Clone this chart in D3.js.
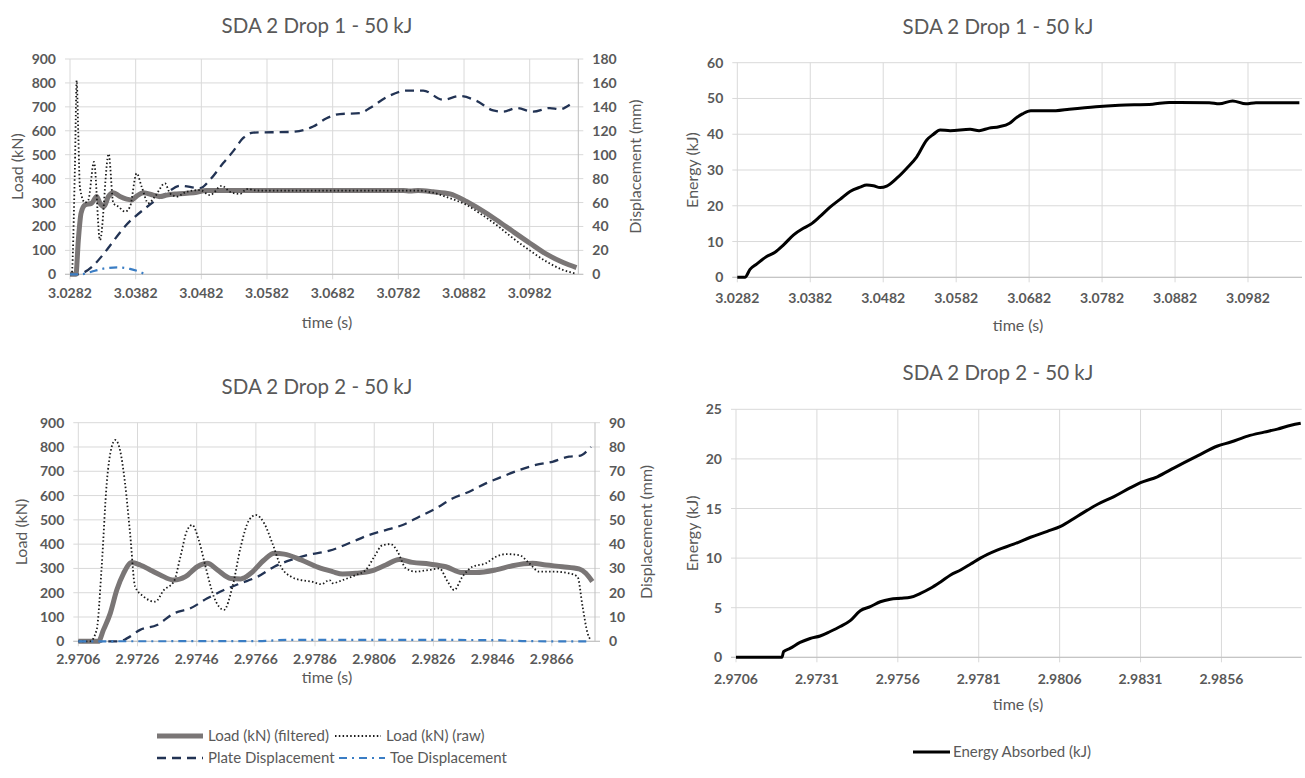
<!DOCTYPE html>
<meta charset="utf-8">
<script src="https://cdn.jsdelivr.net/npm/d3@7"></script>
<style>
  body { margin: 0; background: #fff; }
  svg text { font-family: Lato, "Open Sans", sans-serif; fill: #595959; }
</style>
<body>
<div id="chart"></div>
<script>

// ---- data: [time (s), value] ----

// Drop 1
var d1LoadFiltered = [[3.0282,0],[3.0291,0],[3.02947,143],[3.02988,255],[3.03048,290],[3.0315,297],[3.03226,325],
  [3.03277,297],[3.03338,283],[3.03404,325],[3.0348,341],[3.03581,325],[3.03683,314],[3.03759,311],[3.03835,327],
  [3.03937,341],[3.0409,331],[3.0419,325],[3.04292,331],[3.04444,336],[3.04698,341],[3.04901,350],[3.06,350],
  [3.0740,350],[3.0790,350],[3.07995,348],[3.0812,350],[3.08349,345],[3.08604,336],[3.08858,304],[3.0906,272],
  [3.09315,227],[3.0957,178],[3.09824,130],[3.10076,84],[3.1033,49],[3.10532,28]];
var d1LoadRaw = [[3.0282,0],[3.02845,0],[3.02895,450],[3.02922,810],[3.02945,600],[3.02972,360],[3.03048,300],
  [3.03099,310],[3.03185,470],[3.03277,143],[3.03409,503],[3.0348,297],[3.03556,283],[3.03658,262],[3.03734,283],
  [3.03835,422],[3.03911,366],[3.04013,297],[3.04114,325],[3.04267,380],[3.04343,338],[3.04444,325],[3.04597,345],
  [3.04799,352],[3.04952,331],[3.0513,370],[3.05256,345],[3.05409,336],[3.0551,356],[3.057,350],[3.075,350],
  [3.0812,350],[3.08349,341],[3.08604,318],[3.08858,290],[3.0906,255],[3.09315,206],[3.0957,150],[3.09824,99],
  [3.10076,53],[3.1033,18],[3.10502,4]];
var d1Plate = [[3.0282,0],[3.02922,0],[3.03784,47],[3.04292,68],[3.04494,74],[3.04799,72],[3.04951,79],
  [3.05153,93],[3.05306,103],[3.05458,114],[3.0561,118.5],[3.06169,119],[3.06523,123.5],[3.06727,130.5],
  [3.0693,134],[3.07234,134.7],[3.07386,139],[3.0764,148],[3.07945,153.6],[3.08198,153.6],[3.08502,145.9],
  [3.08756,149],[3.0901,145],[3.09263,137],[3.09415,136],[3.09619,139],[3.09872,136],[3.10126,139],
  [3.10278,138],[3.1043,141.7]];
var d1Toe = [[3.0282,0],[3.02972,0],[3.032,3],[3.03353,5],[3.03551,5.8],[3.03733,4.5],[3.03885,2],[3.03962,0]];
var d1Energy = [[3.0282,0],[3.02925,0],[3.02994,2.2],[3.03085,3.7],[3.03222,5.8],[3.03337,7],[3.03451,9],
  [3.03588,11.8],[3.03725,13.7],[3.03826,14.8],[3.03954,17],[3.04091,19.6],[3.04228,21.8],[3.04365,24],
  [3.04503,25.2],[3.04594,25.8],[3.04686,25.6],[3.04777,25.1],[3.04868,25.5],[3.05006,27.7],[3.05143,30.5],
  [3.0528,33.7],[3.05417,38.4],[3.05509,40],[3.056,41.2],[3.05737,41],[3.06011,41.4],[3.06134,41],
  [3.06271,41.7],[3.06408,42.1],[3.06546,43],[3.06637,44.5],[3.06729,45.7],[3.06843,46.6],[3.07186,46.6],
  [3.07369,47],[3.07735,47.7],[3.08055,48.1],[3.08512,48.4],[3.0874,48.9],[3.09289,48.8],[3.09426,48.5],
  [3.09609,49.3],[3.09792,48.5],[3.09929,48.8],[3.10524,48.8]];

// Drop 2
var d2LoadFiltered = [[2.9706,0],[2.97128,0],[2.97145,47],[2.97168,115],[2.9719,211],[2.97213,280],
  [2.97241,324],[2.97269,314],[2.97303,294],[2.97337,273],[2.97383,252],[2.97422,266],[2.97462,307],
  [2.97496,321],[2.9753,294],[2.97575,259],[2.97609,257],[2.97643,280],[2.97688,335],[2.97722,362],
  [2.97756,359],[2.97813,335],[2.97869,305],[2.97919,287],[2.97953,277],[2.97998,280],[2.98054,291],
  [2.98099,314],[2.98144,337],[2.98189,325],[2.98246,318],[2.98302,307],[2.98358,283],[2.98403,283],
  [2.98471,294],[2.98527,311],[2.98595,321],[2.9864,314],[2.98696,307],[2.98752,298],[2.98775,280],[2.98797,246]];
var d2LoadRaw = [[2.9706,0],[2.971,0],[2.97122,47],[2.97139,307],[2.97156,650],[2.97173,801],[2.97185,829],
  [2.97201,787],[2.97218,650],[2.97235,444],[2.97252,225],[2.97281,184],[2.9732,163],[2.97349,211],
  [2.97383,246],[2.97405,348],[2.97428,458],[2.97445,479],[2.97467,417],[2.9749,307],[2.97518,184],
  [2.97552,129],[2.97581,225],[2.97609,390],[2.97637,499],[2.9766,520],[2.97688,486],[2.97716,403],
  [2.97745,307],[2.97779,266],[2.97813,252],[2.97847,246],[2.97881,235],[2.97909,252],[2.97919,239],
  [2.97953,252],[2.97998,273],[2.98032,294],[2.9806,348],[2.98088,396],[2.98116,400],[2.98139,369],
  [2.98167,300],[2.98201,287],[2.98246,294],[2.9828,300],[2.98308,246],[2.9833,211],[2.98358,266],
  [2.98392,307],[2.98437,321],[2.98471,348],[2.98505,359],[2.9855,355],[2.98584,321],[2.98617,287],
  [2.98662,287],[2.98718,280],[2.98747,266],[2.98764,143],[2.98781,33],[2.98792,5]];
var d2Plate = [[2.9706,0],[2.97201,0],[2.97224,1.2],[2.97269,4.7],[2.97326,6.7],[2.97383,11.5],[2.97439,13.6],
  [2.97496,17.7],[2.97552,21.1],[2.97609,23.9],[2.97666,26.6],[2.97722,30.7],[2.97779,33.5],[2.97835,35.5],
  [2.97909,37.3],[2.97987,41],[2.98043,43.8],[2.98099,45.8],[2.98156,47.9],[2.98212,51.3],[2.98268,54.7],
  [2.98324,58.8],[2.98381,61.6],[2.98437,65],[2.98493,67.8],[2.9855,70.5],[2.98606,72.6],[2.98662,73.9],
  [2.98718,76],[2.98752,76.3],[2.98792,80.1]];
var d2Toe = [[2.9706,0],[2.9766,0.1],[2.9778,0.6],[2.9806,0.6],[2.9846,0.5],[2.9856,0.1],[2.9866,0],[2.9879,0]];
var d2Energy = [[2.9706,0],[2.97202,0],[2.97207,0.57],[2.97227,0.9],[2.97258,1.5],[2.97289,1.9],[2.9732,2.15],
  [2.97351,2.6],[2.97382,3.1],[2.97413,3.7],[2.97444,4.7],[2.97475,5.1],[2.97506,5.6],[2.97537,5.85],
  [2.97568,5.95],[2.97599,6.05],[2.9763,6.45],[2.97661,6.96],[2.97692,7.6],[2.97723,8.3],[2.97754,8.8],
  [2.97785,9.4],[2.97815,10],[2.97867,10.8],[2.97918,11.4],[2.9797,12.1],[2.98022,12.7],[2.98063,13.2],
  [2.98114,14.2],[2.98176,15.4],[2.98228,16.2],[2.98279,17.1],[2.9831,17.6],[2.98362,18.2],[2.98414,19.1],
  [2.98486,20.3],[2.98548,21.3],[2.98589,21.7],[2.98641,22.3],[2.98692,22.7],[2.98733,23.0],[2.98775,23.4],
  [2.98805,23.6]];

// ticks
var d1TimeTicks = [3.0282, 3.0382, 3.0482, 3.0582, 3.0682, 3.0782, 3.0882, 3.0982];
var d2TimeTicks = [2.9706, 2.9726, 2.9746, 2.9766, 2.9786, 2.9806, 2.9826, 2.9846, 2.9866];
var d2EnergyTimeTicks = [2.9706, 2.9731, 2.9756, 2.9781, 2.9806, 2.9831, 2.9856];
var loadTicks = [0, 100, 200, 300, 400, 500, 600, 700, 800, 900];
var d1DispTicks = [0, 20, 40, 60, 80, 100, 120, 140, 160, 180];
var d2DispTicks = [0, 10, 20, 30, 40, 50, 60, 70, 80, 90];
var d1EnergyTicks = [0, 10, 20, 30, 40, 50, 60];
var d2EnergyTicks = [0, 5, 10, 15, 20, 25];

// line styles
var styles = {
  filtered: {stroke: "#7a7676", width: 5, dash: null},
  raw: {stroke: "#1a1a1a", width: 1.8, dash: "1.5,2.3"},
  plate: {stroke: "#223354", width: 2.3, dash: "9,6"},
  toe: {stroke: "#3a7dc4", width: 2.2, dash: "8,5,2,5"},
  energy: {stroke: "#000", width: 3, dash: null}
};

var svg = d3.select("#chart").append("svg")
  .attr("width", 1305)
  .attr("height", 778);

function panel(o) {
  var g = svg.append("g");
  var x = d3.scaleLinear().domain(o.xDomain).range([o.left, o.right]);
  var y = d3.scaleLinear().domain([0, o.yTicks[o.yTicks.length - 1]]).range([o.bottom, o.top]);
  var y2 = o.y2Ticks ? d3.scaleLinear().domain([0, o.y2Ticks[o.y2Ticks.length - 1]]).range([o.bottom, o.top]) : null;
  var gridRight = y2 ? o.right + 5 : o.right;

  // grid
  g.selectAll(".hg").data(o.yTicks).enter().append("line")
    .attr("x1", o.left - 5).attr("x2", gridRight)
    .attr("y1", function(d) { return y(d); }).attr("y2", function(d) { return y(d); })
    .attr("stroke", "#d9d9d9").attr("stroke-width", 1);
  g.selectAll(".vg").data(o.xTicks).enter().append("line")
    .attr("x1", function(d) { return x(d); }).attr("x2", function(d) { return x(d); })
    .attr("y1", o.top).attr("y2", o.bottom + 5)
    .attr("stroke", "#d9d9d9").attr("stroke-width", 1);
  g.append("line").attr("x1", o.left - 5).attr("x2", gridRight)
    .attr("y1", o.bottom).attr("y2", o.bottom).attr("stroke", "#bfbfbf");
  if (y2) {
    g.append("line").attr("x1", o.right).attr("x2", o.right)
      .attr("y1", o.top).attr("y2", o.bottom).attr("stroke", "#bfbfbf");
  }

  // tick labels
  g.selectAll(".xl").data(o.xTicks).enter().append("text")
    .attr("x", function(d) { return x(d); }).attr("y", o.bottom + o.xLabelOff)
    .attr("text-anchor", "middle").attr("font-size", 14).attr("font-weight", "bold")
    .text(d3.format(".4f"));
  g.selectAll(".yl").data(o.yTicks).enter().append("text")
    .attr("x", o.left - 14).attr("y", function(d) { return y(d) + 5; })
    .attr("text-anchor", "end").attr("font-size", 14).attr("font-weight", "bold")
    .text(function(d) { return d; });
  if (y2) {
    g.selectAll(".y2l").data(o.y2Ticks).enter().append("text")
      .attr("x", o.right + 14).attr("y", function(d) { return y2(d) + 5; })
      .attr("text-anchor", "start").attr("font-size", 14).attr("font-weight", "bold")
      .text(function(d) { return d; });
  }

  // titles
  g.append("text").attr("x", o.titleX).attr("y", o.titleY)
    .attr("text-anchor", "middle").attr("font-size", 20.5).text(o.title);
  g.append("text").attr("x", o.xTitleX).attr("y", o.xTitleY)
    .attr("text-anchor", "middle").attr("font-size", 16).text("time (s)");
  g.append("text").attr("transform", "translate(" + o.yTitleX + "," + ((o.top + o.bottom) / 2) + ") rotate(-90)")
    .attr("text-anchor", "middle").attr("font-size", 16).text(o.yTitle);
  if (y2) {
    g.append("text").attr("transform", "translate(" + o.y2TitleX + "," + ((o.top + o.bottom) / 2) + ") rotate(-90)")
      .attr("text-anchor", "middle").attr("font-size", 16).text(o.y2Title);
  }

  // series
  o.series.forEach(function(s) {
    var sc = s.axis === 2 ? y2 : y;
    var line = d3.line()
      .x(function(d) { return x(d[0]); })
      .y(function(d) { return sc(d[1]); })
      .curve(d3.curveMonotoneX);
    var st = styles[s.style];
    g.append("path").datum(s.data)
      .attr("d", line)
      .attr("fill", "none")
      .attr("stroke", st.stroke)
      .attr("stroke-width", st.width)
      .attr("stroke-dasharray", st.dash)
      .attr("stroke-linejoin", "round");
  });
}

panel({
  left: 70, right: 578.3, top: 59, bottom: 274.3,
  xDomain: [3.0282, 3.1056], xTicks: d1TimeTicks, yTicks: loadTicks, y2Ticks: d1DispTicks,
  xLabelOff: 24, title: "SDA 2 Drop 1 - 50 kJ", titleX: 317, titleY: 33,
  xTitleX: 327, xTitleY: 328, yTitle: "Load (kN)", yTitleX: 23, y2Title: "Displacement (mm)", y2TitleX: 641,
  series: [
    {data: d1Plate, axis: 2, style: "plate"},
    {data: d1LoadFiltered, axis: 1, style: "filtered"},
    {data: d1LoadRaw, axis: 1, style: "raw"},
    {data: d1Toe, axis: 2, style: "toe"}
  ]
});

panel({
  left: 737.3, right: 1302, top: 62.7, bottom: 277.3,
  xDomain: [3.0282, 3.1056], xTicks: d1TimeTicks, yTicks: d1EnergyTicks,
  xLabelOff: 26, title: "SDA 2 Drop 1 - 50 kJ", titleX: 998, titleY: 34,
  xTitleX: 1018, xTitleY: 331, yTitle: "Energy (kJ)", yTitleX: 698,
  series: [{data: d1Energy, axis: 1, style: "energy"}]
});

panel({
  left: 78.3, right: 595, top: 422.7, bottom: 641.3,
  xDomain: [2.9706, 2.98806], xTicks: d2TimeTicks, yTicks: loadTicks, y2Ticks: d2DispTicks,
  xLabelOff: 22.5, title: "SDA 2 Drop 2 - 50 kJ", titleX: 317, titleY: 394,
  xTitleX: 327, xTitleY: 683, yTitle: "Load (kN)", yTitleX: 27, y2Title: "Displacement (mm)", y2TitleX: 652,
  series: [
    {data: d2Plate, axis: 2, style: "plate"},
    {data: d2LoadFiltered, axis: 1, style: "filtered"},
    {data: d2LoadRaw, axis: 1, style: "raw"},
    {data: d2Toe, axis: 2, style: "toe"}
  ]
});

panel({
  left: 736, right: 1301.7, top: 409.3, bottom: 657.3,
  xDomain: [2.9706, 2.98808], xTicks: d2EnergyTimeTicks, yTicks: d2EnergyTicks,
  xLabelOff: 27, title: "SDA 2 Drop 2 - 50 kJ", titleX: 998, titleY: 380,
  xTitleX: 1018, xTitleY: 710, yTitle: "Energy (kJ)", yTitleX: 698,
  series: [{data: d2Energy, axis: 1, style: "energy"}]
});

// legends
var legendItems = [
  {label: "Load (kN) (filtered)", style: "filtered", x: 157, y: 736},
  {label: "Load (kN) (raw)", style: "raw", x: 335, y: 736},
  {label: "Plate Displacement", style: "plate", x: 157, y: 758},
  {label: "Toe Displacement", style: "toe", x: 339, y: 758},
  {label: "Energy Absorbed (kJ)", style: "energy", x: 913, y: 752}
];
var leg = svg.append("g").selectAll("g").data(legendItems).enter().append("g");
leg.append("line")
  .attr("x1", function(d) { return d.x; }).attr("x2", function(d) { return d.x + (d.style === "energy" ? 37 : 46); })
  .attr("y1", function(d) { return d.y; }).attr("y2", function(d) { return d.y; })
  .attr("stroke", function(d) { return styles[d.style].stroke; })
  .attr("stroke-width", function(d) { return styles[d.style].width; })
  .attr("stroke-dasharray", function(d) { return styles[d.style].dash; });
leg.append("text")
  .attr("x", function(d) { return d.x + (d.style === "energy" ? 40 : 51); }).attr("y", function(d) { return d.y + 5; })
  .attr("font-size", 15).text(function(d) { return d.label; });

</script>
</body>
